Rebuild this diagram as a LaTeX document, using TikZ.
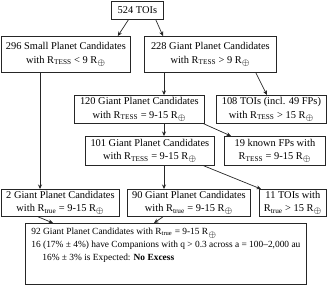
\documentclass[tikz,border=0pt]{standalone}
\usepackage{fontspec}
\setmainfont{Liberation Serif}
\usetikzlibrary{arrows.meta}
\newcommand{\Rtess}{R\textsubscript{TESS}}
\newcommand{\Rtrue}{R\textsubscript{true}}
\newcommand{\Rearth}{R\textsubscript{\scalebox{1.25}{$\oplus$}}}
\begin{document}
\begin{tikzpicture}[x=1pt,y=1pt,
  box/.style={draw=black!85,line width=0.8pt,anchor=north west,align=center,inner sep=0pt,
    font=\fontsize{10.4}{13.5}\selectfont},
  arr/.style={draw=black!85,line width=0.7pt,-{Stealth[length=4.5pt,width=4pt]}}]
\useasboundingbox (0,0) rectangle (329,-292);
\node[box,minimum width=52,minimum height=18] (n524) at (111,-1) {524 TOIs};
\node[box,minimum width=129,minimum height=36] (n296) at (1,-36) {296 Small Planet Candidates\\with \Rtess{} < 9 \Rearth};
\node[box,minimum width=132,minimum height=36] (n228) at (144,-36) {228 Giant Planet Candidates\\with \Rtess{} > 9 \Rearth};
\node[box,minimum width=130,minimum height=28] (n120) at (74,-95) {120 Giant Planet Candidates\\with \Rtess{} = 9-15 \Rearth};
\node[box,minimum width=110,minimum height=28] (n108) at (216,-95) {108 TOIs (incl. 49 FPs)\\with \Rtess{} > 15 \Rearth};
\node[box,minimum width=129,minimum height=29] (n101) at (85,-136) {101 Giant Planet Candidates\\with \Rtess{} = 9-15 \Rearth};
\node[box,minimum width=101,minimum height=29] (n19) at (224,-136) {19 known FPs with\\\Rtess{} = 9-15 \Rearth};
\node[box,minimum width=118,minimum height=27] (n2) at (1,-189) {2 Giant Planet Candidates\\with \Rtrue{} = 9-15 \Rearth};
\node[box,minimum width=123,minimum height=27] (n90) at (127,-189) {90 Giant Planet Candidates\\with \Rtrue{} = 9-15 \Rearth};
\node[box,minimum width=67,minimum height=27] (n11) at (259,-189) {11 TOIs with\\\Rtrue{} > 15 \Rearth};
\node[box,minimum width=278,align=left,inner xsep=6pt,inner ysep=5pt,font=\fontsize{9.4}{13}\selectfont] (nB) at (25,-223)
 {92 Giant Planet Candidates with \Rtrue{} = 9-15 \Rearth\\
  16 (17\% ± 4\%) have Companions with q > 0.3 across a = 100–2,000 au\\
  \hspace*{11pt}16\% ± 3\% is Expected: \textbf{No Excess}\rule[-18pt]{0pt}{0pt}};
\draw[arr] ([xshift=-9]n524.south) -- ([xshift=-13]n296.north east);
\draw[arr] ([xshift=-8]n524.south east) -- ([xshift=19]n228.north west);
\draw[arr] ([xshift=20]n228.south west) -- ([xshift=90]n120.north west);
\draw[arr] ([xshift=-21]n228.south east) -- ([xshift=51]n108.north west);
\draw[arr] ([xshift=39]n296.south west) -- ([xshift=39]n2.north west);
\draw[arr] ([xshift=90]n120.south west) -- ([xshift=79]n101.north west);
\draw[arr] ([xshift=-1]n120.south east) -- ([xshift=7]n19.north west);
\draw[arr] ([xshift=79]n101.south west) -- ([xshift=37]n90.north west);
\draw[arr] ([xshift=-11]n101.south east) -- ([xshift=2]n11.north west);
\draw[arr] ([xshift=37]n2.south west) -- ([xshift=28]nB.north west);
\draw[arr] ([xshift=36]n90.south west) -- ([xshift=129]nB.north west);
\end{tikzpicture}
\end{document}
